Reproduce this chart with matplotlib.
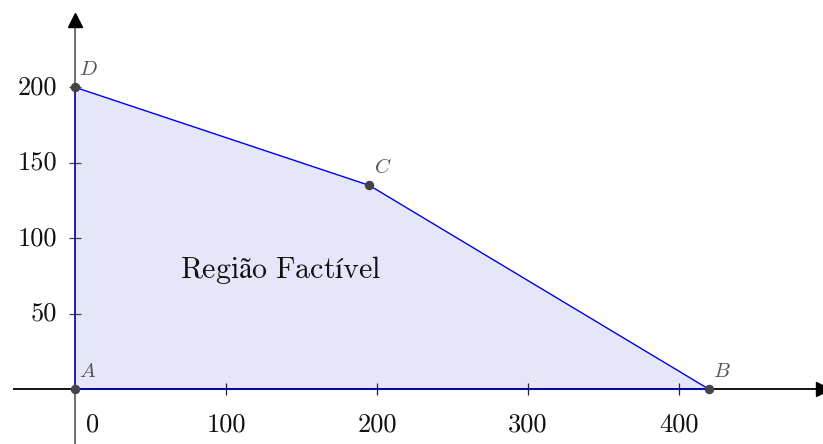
import matplotlib
matplotlib.use("Agg")
import matplotlib.pyplot as plt
from matplotlib import transforms

# Data
vert_names = ["A", "B", "C", "D"]
vert_x = [0, 420, 195, 0]
vert_y = [0, 0, 135, 200]
xticks = [0, 100, 200, 300, 400]
yticks = [50, 100, 150, 200]
region_label = "Região Factível"

plt.rcParams['mathtext.fontset'] = 'cm'
serif = ['cmr10', 'DejaVu Serif']

fig = plt.figure(figsize=(8.23, 4.44), dpi=100)
ax = fig.add_axes([0, 0, 1, 1])
ax.set_xlim(-49.7, 495.4)
ax.set_ylim(-36.2, 257.8)
ax.axis('off')

# Feasible region
ax.fill(vert_x, vert_y, color='#e6e6fa', lw=0, zorder=1)

# Axes lines
ax.plot([-41, 495.4], [0, 0], color='black', lw=1.3, zorder=2, solid_capstyle='butt')
ax.plot([0, 0], [-36.2, 245], color='#666666', lw=1.3, zorder=2, solid_capstyle='butt')
ax.plot([495.4], [0], marker='>', color='black', markersize=10.5, zorder=3)
ax.plot([0], [244.6], marker='^', color='black', markersize=10.5, zorder=3, clip_on=False)

# Polygon edges
ax.plot(vert_x + [vert_x[0]], vert_y + [vert_y[0]], color='#0000ee', lw=1.0, zorder=4)

# Ticks
ax.plot(xticks[1:], [0] * (len(xticks) - 1), ls='none', marker='|', markersize=8,
        markeredgewidth=0.9, color='#222222', zorder=3)
ax.plot([0] * len(yticks), yticks, ls='none', marker='_', markersize=8.5,
        markeredgewidth=0.9, color='#444444', zorder=3)

# Tick labels
for i, t in enumerate(xticks):
    dx = 12.5 if t == 0 else 0
    tr = ax.transData + transforms.ScaledTranslation(dx / 72, -17 / 72, fig.dpi_scale_trans)
    ax.text(t, 0, str(t), transform=tr, ha='center', va='top', fontsize=19,
            family=serif, color='#111111')
for t in yticks:
    tr = ax.transData + transforms.ScaledTranslation(-13 / 72, 0, fig.dpi_scale_trans)
    ax.text(0, t, str(t), transform=tr, ha='right', va='center', fontsize=19,
            family=serif, color='#111111')

# Vertices
ax.plot(vert_x, vert_y, ls='none', marker='o', markersize=5.8, color='#444444', zorder=5)
for n, x, y in zip(vert_names, vert_x, vert_y):
    ax.annotate('$' + n + '$', (x, y), xytext=(3, 9), textcoords='offset points',
                ha='left', va='baseline', fontsize=15, color='#555555', zorder=6)

# Region label
ax.text(136, 79, r"$\mathrm{" + region_label.replace(" ", r"\ ") + "}$",
        ha='center', va='center', fontsize=21.5, color='#111111', zorder=6)

fig.savefig("out.png", dpi=100)
